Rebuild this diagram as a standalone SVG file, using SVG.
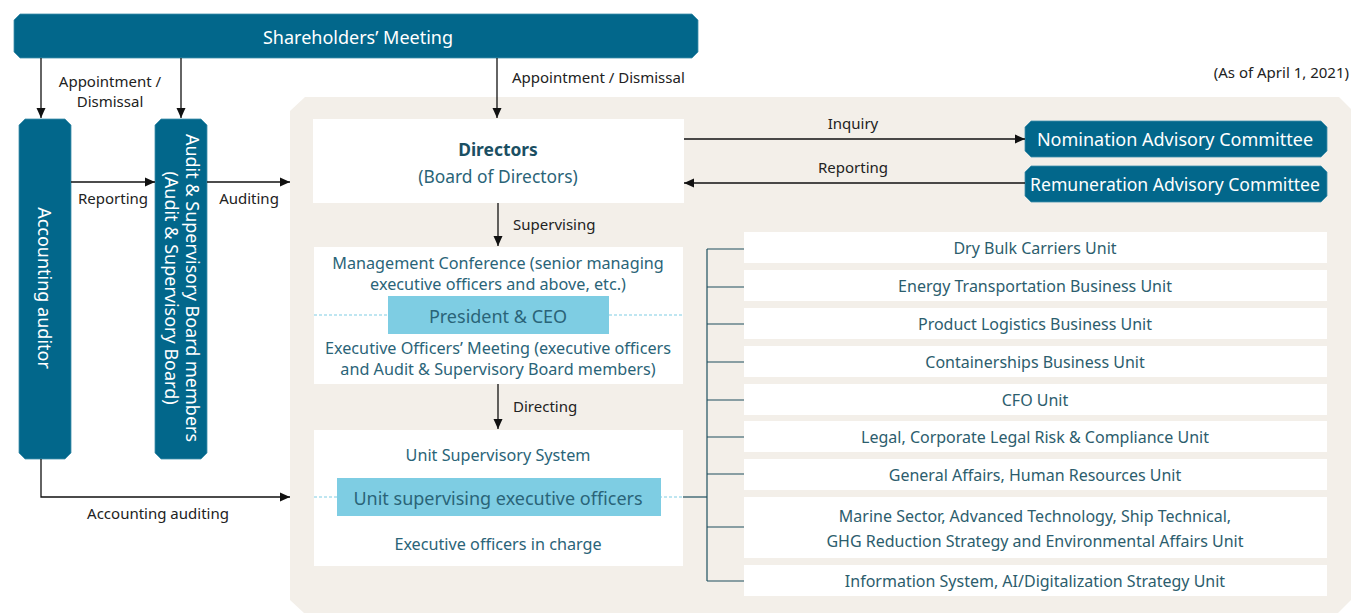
<svg xmlns="http://www.w3.org/2000/svg" width="1351" height="614" viewBox="0 0 1351 614">
<defs>
<marker id="ah" viewBox="0 0 10 10" refX="10" refY="5" markerWidth="10" markerHeight="10" markerUnits="userSpaceOnUse" orient="auto">
<path d="M0,0.5 L10,5 L0,9.5 Z" fill="#111"/>
</marker>
<style>
text{font-family:"Noto Sans",Lato,"Liberation Sans",sans-serif;}
.dark{fill:#02678b;stroke:#3f8fab;stroke-width:0.8;}
.wt{fill:#fff;font-size:18px;text-anchor:middle;dominant-baseline:central;}
.lbl{fill:#222;font-size:15px;}
.mid{text-anchor:middle;}
.unit{fill:#fff;}
.ut{fill:#2c5d6d;font-size:16px;text-anchor:middle;dominant-baseline:central;}
.tt{fill:#2a6478;font-size:16.2px;text-anchor:middle;dominant-baseline:central;}
.lb{fill:#7ecde3;}
.conn{stroke:#111;stroke-width:1.3;fill:none;}
.tree{stroke:#1e4f5f;stroke-width:1.2;fill:none;}
.dash{stroke:#7ecde3;stroke-width:1;stroke-dasharray:3,2;fill:none;}
</style>
</defs>

<g id="panel">
<polygon points="305,97 1339,97 1351,109 1351,600 1338,613 304,613 290,600 290,111" fill="#f3efe9"/>
</g>

<text x="1349" y="78" class="lbl" text-anchor="end">(As of April 1, 2021)</text>

<g id="shareholders">
<polygon class="dark" points="20,14 692,14 698,20 698,52 692,58 20,58 14,52 14,20"/>
<text x="358" y="37" class="wt">Shareholders’ Meeting</text>
</g>

<g id="accounting-auditor">
<polygon class="dark" points="25,119 65,119 71,125 71,453 65,459 25,459 19,453 19,125"/>
<text class="wt" transform="translate(45,288) rotate(90)">Accounting auditor</text>
</g>

<g id="audit-board">
<polygon class="dark" points="161,119 201,119 207,125 207,453 201,459 161,459 155,453 155,125"/>
<g transform="translate(182,288) rotate(90)">
<text class="wt" y="-11">Audit &amp; Supervisory Board members</text>
<text class="wt" y="10">(Audit &amp; Supervisory Board)</text>
</g>
</g>

<g id="directors">
<rect x="313" y="119" width="371" height="84" fill="#fff"/>
<text x="498" y="149" class="tt" style="font-weight:bold;fill:#1b4f63;font-size:17.4px">Directors</text>
<text x="498" y="176" class="tt" style="font-size:17.4px">(Board of Directors)</text>
</g>

<g id="management">
<rect x="314" y="247" width="369" height="137" fill="#fff"/>
<text x="498" y="263" class="tt">Management Conference (senior managing</text>
<text x="498" y="284" class="tt">executive officers and above, etc.)</text>
<line x1="314" y1="315" x2="683" y2="315" class="dash"/>
<rect x="388" y="296" width="221" height="38" class="lb"/>
<text x="498" y="316" class="tt" style="font-size:18px">President &amp; CEO</text>
<text x="498" y="348" class="tt">Executive Officers’ Meeting (executive officers</text>
<text x="498" y="369" class="tt">and Audit &amp; Supervisory Board members)</text>
</g>

<g id="unit-supervisory">
<rect x="314" y="430" width="369" height="136" fill="#fff"/>
<text x="498" y="455" class="tt">Unit Supervisory System</text>
<line x1="314" y1="497" x2="683" y2="497" class="dash"/>
<rect x="337" y="478" width="324" height="38" class="lb"/>
<text x="498" y="498" class="tt" style="font-size:18px">Unit supervising executive officers</text>
<text x="498" y="544" class="tt">Executive officers in charge</text>
</g>

<g id="nomination">
<polygon class="dark" points="1031,121 1321,121 1327,127 1327,151 1321,157 1031,157 1025,151 1025,127"/>
<text x="1175" y="139" class="wt">Nomination Advisory Committee</text>
</g>
<g id="remuneration">
<polygon class="dark" points="1031,166 1321,166 1327,172 1327,196 1321,202 1031,202 1025,196 1025,172"/>
<text x="1175" y="184" class="wt" style="font-size:17.6px">Remuneration Advisory Committee</text>
</g>

<g id="units">
<rect x="744" y="232" width="583" height="31" class="unit"/><text x="1035" y="248" class="ut">Dry Bulk Carriers Unit</text>
<rect x="744" y="270" width="583" height="31" class="unit"/><text x="1035" y="286" class="ut">Energy Transportation Business Unit</text>
<rect x="744" y="308" width="583" height="31" class="unit"/><text x="1035" y="324" class="ut">Product Logistics Business Unit</text>
<rect x="744" y="346" width="583" height="31" class="unit"/><text x="1035" y="362" class="ut">Containerships Business Unit</text>
<rect x="744" y="384" width="583" height="31" class="unit"/><text x="1035" y="400" class="ut">CFO Unit</text>
<rect x="744" y="421" width="583" height="31" class="unit"/><text x="1035" y="437" class="ut">Legal, Corporate Legal Risk &amp; Compliance Unit</text>
<rect x="744" y="459" width="583" height="31" class="unit"/><text x="1035" y="475" class="ut">General Affairs, Human Resources Unit</text>
<rect x="744" y="497" width="583" height="61" class="unit"/><text x="1035" y="516" class="ut">Marine Sector, Advanced Technology, Ship Technical,</text><text x="1035" y="541" class="ut">GHG Reduction Strategy and Environmental Affairs Unit</text>
<rect x="744" y="565" width="583" height="31" class="unit"/><text x="1035" y="581" class="ut">Information System, AI/Digitalization Strategy Unit</text>
</g>

<g id="connectors">
<line x1="41" y1="58" x2="41" y2="118" class="conn" marker-end="url(#ah)"/>
<line x1="181" y1="58" x2="181" y2="118" class="conn" marker-end="url(#ah)"/>
<line x1="497" y1="58" x2="497" y2="118" class="conn" marker-end="url(#ah)"/>
<line x1="71" y1="182" x2="155" y2="182" class="conn" marker-end="url(#ah)"/>
<line x1="207" y1="182" x2="290" y2="182" class="conn" marker-end="url(#ah)"/>
<polyline points="41,459 41,497 290,497" class="conn" marker-end="url(#ah)"/>
<line x1="684" y1="139" x2="1025" y2="139" class="conn" marker-end="url(#ah)"/>
<line x1="1025" y1="183" x2="684" y2="183" class="conn" marker-end="url(#ah)"/>
<line x1="498" y1="203" x2="498" y2="246" class="conn" marker-end="url(#ah)"/>
<line x1="498" y1="384" x2="498" y2="429" class="conn" marker-end="url(#ah)"/>
<line x1="683" y1="497" x2="707" y2="497" class="tree"/>
<line x1="707" y1="249" x2="707" y2="581" class="tree"/>
<line x1="707" y1="249" x2="744" y2="249" class="tree"/>
<line x1="707" y1="287" x2="744" y2="287" class="tree"/>
<line x1="707" y1="324" x2="744" y2="324" class="tree"/>
<line x1="707" y1="362" x2="744" y2="362" class="tree"/>
<line x1="707" y1="400" x2="744" y2="400" class="tree"/>
<line x1="707" y1="437" x2="744" y2="437" class="tree"/>
<line x1="707" y1="474" x2="744" y2="474" class="tree"/>
<line x1="707" y1="527" x2="744" y2="527" class="tree"/>
<line x1="707" y1="581" x2="744" y2="581" class="tree"/>
</g>

<g id="labels">
<text x="110" y="87" class="lbl mid">Appointment /</text>
<text x="110" y="107" class="lbl mid">Dismissal</text>
<text x="512" y="83" class="lbl">Appointment / Dismissal</text>
<text x="113" y="204" class="lbl mid">Reporting</text>
<text x="249" y="204" class="lbl mid">Auditing</text>
<text x="158" y="519" class="lbl mid">Accounting auditing</text>
<text x="853" y="129" class="lbl mid">Inquiry</text>
<text x="853" y="173" class="lbl mid">Reporting</text>
<text x="513" y="230" class="lbl">Supervising</text>
<text x="513" y="412" class="lbl">Directing</text>
</g>
</svg>
